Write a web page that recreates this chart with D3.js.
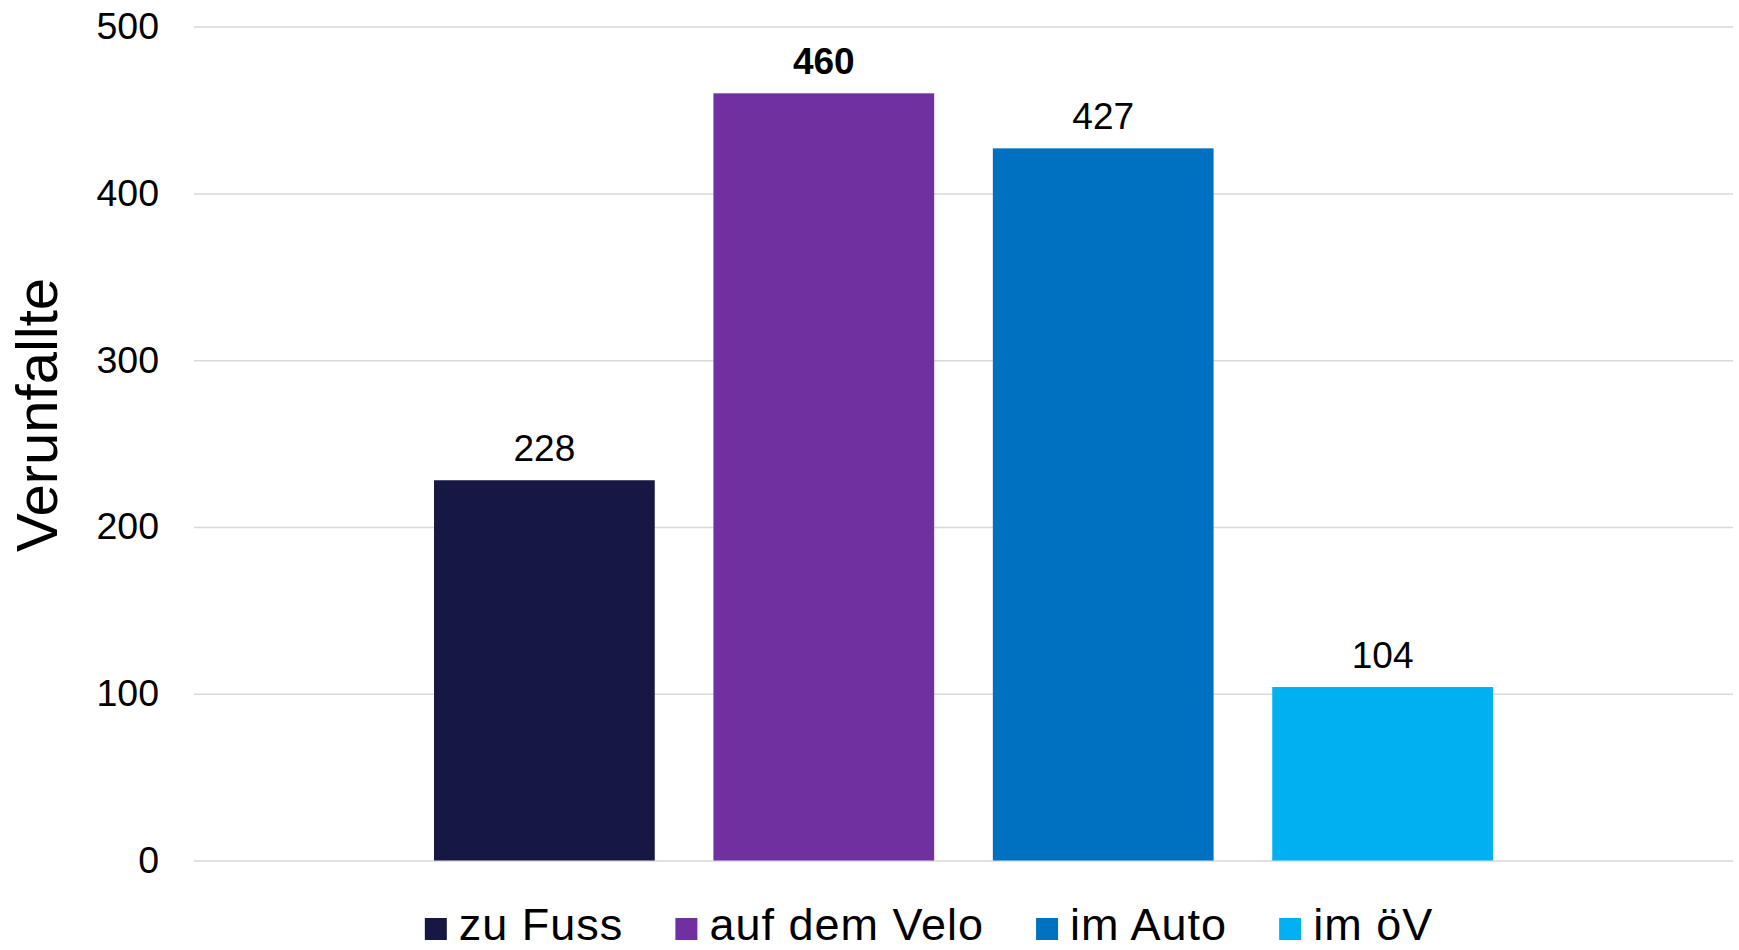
<!DOCTYPE html>
<html>
<head>
<meta charset="utf-8">
<script src="https://cdn.jsdelivr.net/npm/d3@7"></script>
<style>
  body { margin: 0; background: #fff; }
  svg { display: block; font-family: "Liberation Sans", Arial, sans-serif; }
</style>
</head>
<body>
<svg></svg>
<script>
// data
var series = ["zu Fuss", "auf dem Velo", "im Auto", "im öV"];
var values = [228, 460, 427, 104];
var colors = ["#171744", "#7030a0", "#0070c0", "#00b0f0"];
var boldLabel = [false, true, false, false];
var yTicks = [0, 100, 200, 300, 400, 500];
var yTitle = "Verunfallte";

draw();

function draw(){
  var width = 1739;
  var height = 950;
  var left = 194, right = 1733, top = 26.6, bottom = 860.5;

  var svg = d3.select("svg")
              .attr("width", width)
              .attr("height", height);

  var y = d3.scaleLinear()
            .domain([0, 500])
            .range([bottom, top]);

  // one category, four series side by side
  var cat = d3.scaleBand()
              .domain([""])
              .range([left, right]);

  var x = d3.scaleBand()
            .domain(series)
            .range([0, cat.bandwidth()])
            .paddingInner(0.21)
            .paddingOuter(0.859);

  var yAxis = d3.axisLeft(y)
                .tickValues(yTicks)
                .tickSize(-(right - left))
                .tickPadding(35);

  var ag = svg.append("g")
              .attr("transform", "translate(" + left + ",0)")
              .call(yAxis);
  ag.select(".domain").remove();
  ag.selectAll(".tick line")
    .attr("stroke", "#d9d9d9")
    .attr("stroke-width", 1.5);
  ag.selectAll(".tick text")
    .attr("font-size", 37.5)
    .attr("fill", "#000")
    .attr("font-family", "Liberation Sans, Arial, sans-serif");

  svg.append("text")
     .attr("transform", "translate(57," + 415 + ") rotate(-90)")
     .attr("text-anchor", "middle")
     .attr("font-size", 58)
     .attr("fill", "#000")
     .text(yTitle);

  var bars = svg.append("g")
                .attr("transform", "translate(" + cat("") + ",0)");

  bars.selectAll("rect")
      .data(values)
      .enter()
      .append("rect")
      .attr("x", function(d, i){ return x(series[i]); })
      .attr("y", function(d){ return y(d); })
      .attr("width", x.bandwidth())
      .attr("height", function(d){ return y(0) - y(d); })
      .attr("fill", function(d, i){ return colors[i]; });

  bars.selectAll("text")
      .data(values)
      .enter()
      .append("text")
      .attr("x", function(d, i){ return x(series[i]) + x.bandwidth() / 2; })
      .attr("y", function(d){ return y(d) - 19; })
      .attr("text-anchor", "middle")
      .attr("font-size", 37)
      .attr("font-weight", function(d, i){ return boldLabel[i] ? "bold" : "normal"; })
      .attr("fill", "#000")
      .text(function(d){ return d; });

  // legend
  var legend = svg.append("g");
  var sq = 22, gapText = 12, gapItem = 52;
  var items = legend.selectAll("g")
                    .data(series)
                    .enter()
                    .append("g");
  items.append("rect")
       .attr("y", 918)
       .attr("width", sq)
       .attr("height", sq)
       .attr("fill", function(d, i){ return colors[i]; });
  items.append("text")
       .attr("x", sq + gapText)
       .attr("y", 940)
       .attr("font-size", 45)
       .attr("letter-spacing", 1)
       .attr("fill", "#000")
       .text(function(d){ return d; });

  var pos = 0, offsets = [];
  items.each(function(){
    offsets.push(pos);
    var w = d3.select(this).select("text").node().getComputedTextLength();
    pos += sq + gapText + w + gapItem;
  });
  var total = pos - gapItem;
  var start = 929 - total / 2;
  items.attr("transform", function(d, i){ return "translate(" + (start + offsets[i]) + ",0)"; });
}
</script>
</body>
</html>
